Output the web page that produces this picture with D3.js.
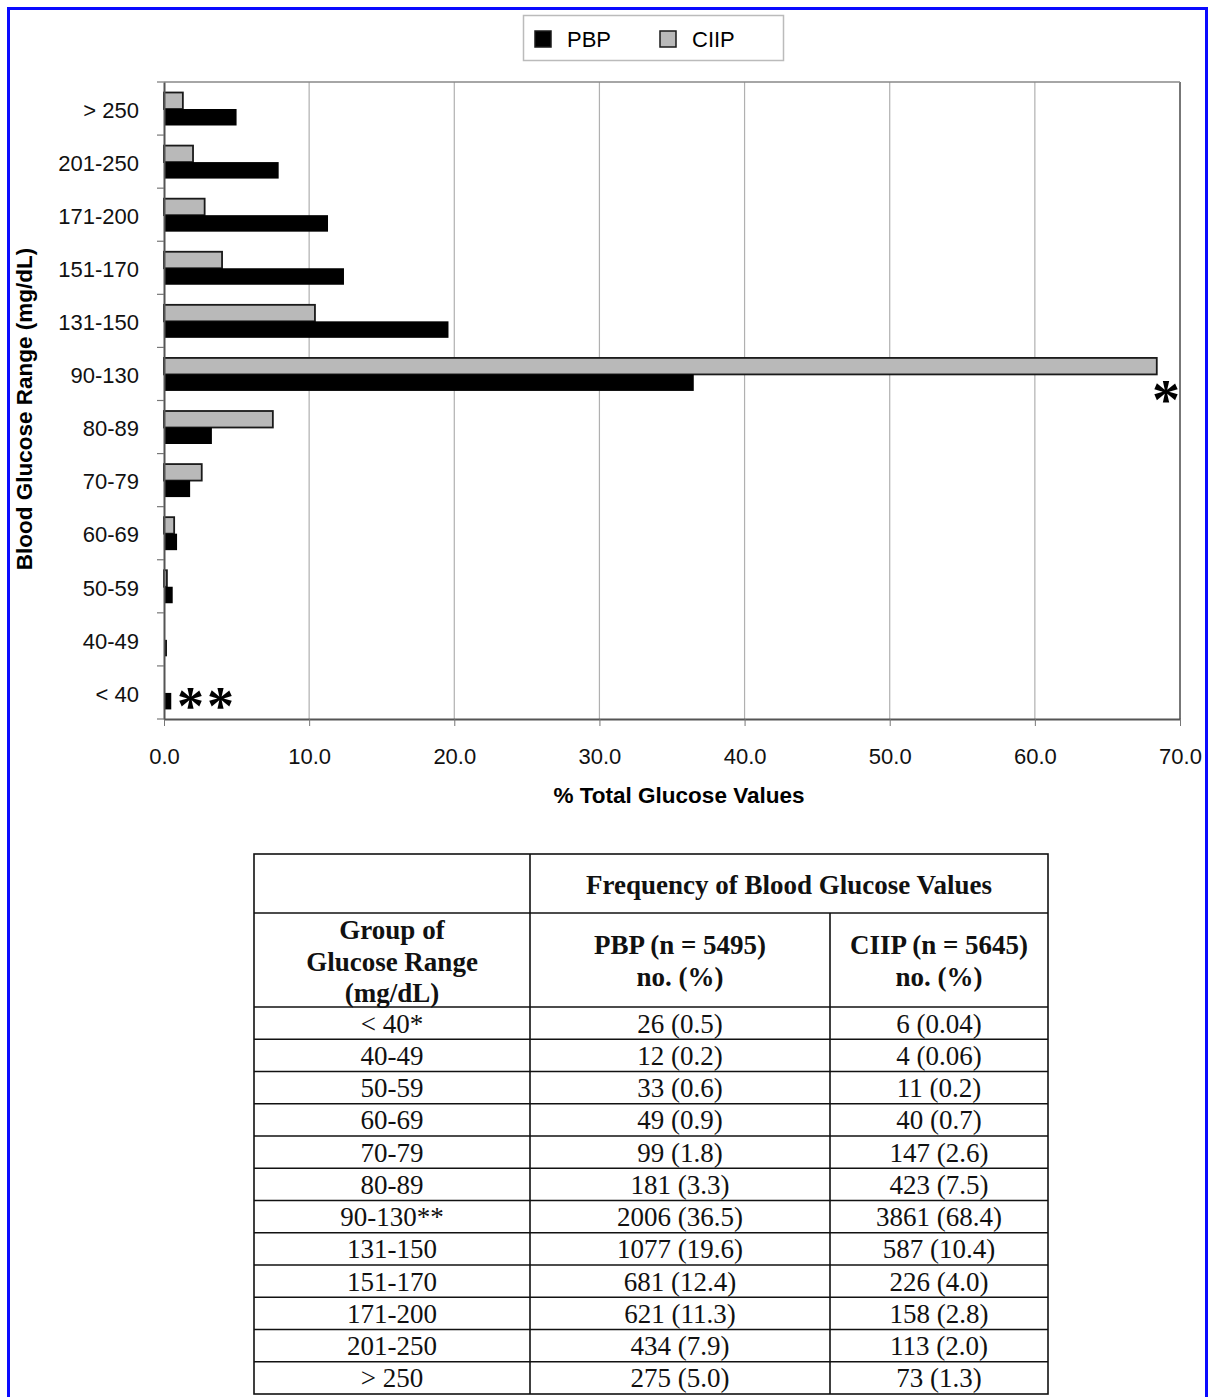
<!DOCTYPE html>
<html>
<head>
<meta charset="utf-8">
<script src="https://cdn.jsdelivr.net/npm/d3@7"></script>
<style>
  body { margin: 0; background: #fff; }
  svg { display: block; }
  .axis text { font-family: Arial, "Liberation Sans", sans-serif; font-size: 22px; fill: #111; }
  .tbl text { font-family: "Liberation Serif", "Times New Roman", serif; fill: #111; }
</style>
</head>
<body>
<div id="chart"></div>
<script>
// categories, bottom to top
const ranges = ['< 40', '40-49', '50-59', '60-69', '70-79', '80-89', '90-130', '131-150', '151-170', '171-200', '201-250', '> 250'];
const tableRanges = ['< 40*', '40-49', '50-59', '60-69', '70-79', '80-89', '90-130**', '131-150', '151-170', '171-200', '201-250', '> 250'];
const pbpCounts = [26, 12, 33, 49, 99, 181, 2006, 1077, 681, 621, 434, 275];
const pbpPct = [0.5, 0.2, 0.6, 0.9, 1.8, 3.3, 36.5, 19.6, 12.4, 11.3, 7.9, 5.0];
const ciipCounts = [6, 4, 11, 40, 147, 423, 3861, 587, 226, 158, 113, 73];
const ciipPct = [0.04, 0.06, 0.2, 0.7, 2.6, 7.5, 68.4, 10.4, 4.0, 2.8, 2.0, 1.3];
const xTicks = [0, 10, 20, 30, 40, 50, 60, 70];
const seriesNames = ['PBP', 'CIIP'];

const width = 1209;
const height = 1397;
const plot = { left: 164, right: 1180, top: 82, bottom: 719 };

const svg = d3.select('#chart')
    .append('svg')
    .attr('width', width)
    .attr('height', height);

// blue frame
svg.append('rect')
    .attr('x', 8.5).attr('y', 8.5)
    .attr('width', 1198).attr('height', 1400)
    .attr('fill', 'none')
    .attr('stroke', '#0a0aff')
    .attr('stroke-width', 3);

const x = d3.scaleLinear().domain([0, 70]).range([plot.left, plot.right]);
const y = d3.scaleBand()
    .domain(ranges.slice().reverse())
    .range([plot.top, plot.bottom]);
const inner = d3.scaleBand()
    .domain(['CIIP', 'PBP'])
    .range([10.5, 43.5]);

// grid lines
svg.append('g')
    .selectAll('line')
    .data(xTicks.slice(1))
    .enter()
    .append('line')
    .attr('x1', d => x(d)).attr('x2', d => x(d))
    .attr('y1', plot.top).attr('y2', plot.bottom)
    .attr('stroke', d => d === 70 ? '#777' : '#b0b0b0')
    .attr('stroke-width', d => d === 70 ? 2 : 1.2);

svg.append('line')
    .attr('x1', plot.left).attr('x2', plot.right)
    .attr('y1', plot.top).attr('y2', plot.top)
    .attr('stroke', '#888').attr('stroke-width', 1.5);

// bars
const rows = ranges.map((r, i) => ({ range: r, PBP: pbpPct[i], CIIP: ciipPct[i] }));
const groups = svg.append('g')
    .selectAll('g')
    .data(rows)
    .enter()
    .append('g')
    .attr('transform', d => `translate(0,${y(d.range)})`);

groups.append('rect')
    .attr('x', x(0))
    .attr('y', inner('CIIP'))
    .attr('width', d => Math.max(0, x(d.CIIP) - x(0)))
    .attr('height', inner.bandwidth())
    .attr('fill', d => d.CIIP < 0.1 ? 'none' : '#b9b9b9')
    .attr('stroke', d => d.CIIP < 0.1 ? 'none' : '#1a1a1a')
    .attr('stroke-width', 1.8);

groups.append('rect')
    .attr('x', x(0))
    .attr('y', inner('PBP'))
    .attr('width', d => x(d.PBP) - x(0))
    .attr('height', inner.bandwidth())
    .attr('fill', '#000');

// axes
const xAxis = d3.axisBottom(x).tickValues(xTicks).tickFormat(d3.format('.1f')).tickSize(7).tickSizeOuter(0);
const gx = svg.append('g')
    .attr('class', 'axis')
    .attr('transform', `translate(0,${plot.bottom})`)
    .call(xAxis);
gx.select('.domain').attr('stroke', '#555').attr('stroke-width', 2);
gx.selectAll('.tick line').attr('stroke', '#777');
gx.selectAll('.tick text').attr('dy', '1.57em');

const yAxis = d3.axisLeft(y).tickSize(0).tickPadding(25).tickSizeOuter(0);
const gy = svg.append('g')
    .attr('class', 'axis')
    .attr('transform', `translate(${plot.left},0)`)
    .call(yAxis);
gy.select('.domain').attr('stroke', '#555').attr('stroke-width', 2);
gy.selectAll('.tick text').attr('dy', '0.42em');

// band boundary ticks on the y axis
svg.append('g')
    .selectAll('line')
    .data(ranges)
    .enter()
    .append('line')
    .attr('x1', plot.left - 7).attr('x2', plot.left)
    .attr('y1', d => y(d)).attr('y2', d => y(d))
    .attr('stroke', '#777').attr('stroke-width', 1.2);
svg.append('line')
    .attr('x1', plot.left - 7).attr('x2', plot.left)
    .attr('y1', plot.bottom).attr('y2', plot.bottom)
    .attr('stroke', '#777').attr('stroke-width', 1.2);

// axis titles
svg.append('text')
    .attr('x', 679)
    .attr('y', 803)
    .attr('text-anchor', 'middle')
    .style('font-family', 'Arial, "Liberation Sans", sans-serif')
    .style('font-size', '22.5px')
    .style('font-weight', 'bold')
    .text('% Total Glucose Values');

svg.append('text')
    .attr('transform', 'translate(32,409) rotate(-90)')
    .attr('text-anchor', 'middle')
    .style('font-family', 'Arial, "Liberation Sans", sans-serif')
    .style('font-size', '22.5px')
    .style('font-weight', 'bold')
    .text('Blood Glucose Range (mg/dL)');

// significance markers
const star = svg.append('g')
    .style('font-family', '"Liberation Serif", "Times New Roman", serif')
    .style('font-weight', 'bold')
    .attr('fill', '#000');
star.append('text')
    .attr('x', 1166).attr('y', y('90-130') + 72)
    .attr('text-anchor', 'middle')
    .style('font-size', '56px')
    .text('*');
star.append('text')
    .attr('x', 177).attr('y', y('< 40') + 58)
    .style('font-size', '54px')
    .attr('letter-spacing', '3px')
    .text('**');

// legend
const legend = svg.append('g').attr('transform', 'translate(523,15)');
legend.append('rect')
    .attr('x', 0.5).attr('y', 0.5)
    .attr('width', 260).attr('height', 45)
    .attr('fill', '#fff')
    .attr('stroke', '#bbb').attr('stroke-width', 1.5);
const legendItems = legend.selectAll('g')
    .data(seriesNames)
    .enter()
    .append('g')
    .attr('transform', (d, i) => `translate(${12 + i * 125},0)`);
legendItems.append('rect')
    .attr('x', 0).attr('y', 16)
    .attr('width', 16).attr('height', 16)
    .attr('fill', d => d === 'PBP' ? '#000' : '#b9b9b9')
    .attr('stroke', '#1a1a1a').attr('stroke-width', 1.5);
legendItems.append('text')
    .attr('x', 32).attr('y', 32)
    .style('font-family', 'Arial, "Liberation Sans", sans-serif')
    .style('font-size', '22px')
    .text(d => d);

// table
const tbl = svg.append('g').attr('class', 'tbl');
const colX = [254, 530, 830, 1048];
const rowTop = 1007;
const rowH = 32.25;
const tableRows = d3.range(ranges.length).map(i => [
    tableRanges[i],
    `${pbpCounts[i]} (${pbpPct[i].toFixed(1)})`,
    `${ciipCounts[i]} (${ciipPct[i] < 0.1 ? ciipPct[i].toFixed(2) : ciipPct[i].toFixed(1)})`
]);
const tableBottom = rowTop + rowH * tableRows.length;
const lineStyle = sel => sel.attr('stroke', '#111').attr('stroke-width', 1.6);

tbl.append('rect')
    .attr('x', colX[0]).attr('y', 854)
    .attr('width', colX[3] - colX[0]).attr('height', tableBottom - 854)
    .attr('fill', 'none')
    .call(lineStyle);
tbl.append('line').attr('x1', colX[1]).attr('x2', colX[1]).attr('y1', 854).attr('y2', tableBottom).call(lineStyle);
tbl.append('line').attr('x1', colX[2]).attr('x2', colX[2]).attr('y1', 913).attr('y2', tableBottom).call(lineStyle);
tbl.append('line').attr('x1', colX[0]).attr('x2', colX[3]).attr('y1', 913).attr('y2', 913).call(lineStyle);
tbl.selectAll('.hline')
    .data(d3.range(tableRows.length))
    .enter()
    .append('line')
    .attr('x1', colX[0]).attr('x2', colX[3])
    .attr('y1', i => rowTop + i * rowH).attr('y2', i => rowTop + i * rowH)
    .call(lineStyle);

const headStyle = sel => sel
    .attr('text-anchor', 'middle')
    .style('font-size', '27px')
    .style('font-weight', 'bold');
tbl.append('text').attr('x', (colX[1] + colX[3]) / 2).attr('y', 894).call(headStyle)
    .text('Frequency of Blood Glucose Values');
const headLines = [
    { x: (colX[0] + colX[1]) / 2, lines: ['Group of', 'Glucose Range', '(mg/dL)'], y0: 939 },
    { x: (colX[1] + colX[2]) / 2, lines: ['PBP (n = 5495)', 'no. (%)'], y0: 954 },
    { x: (colX[2] + colX[3]) / 2, lines: ['CIIP (n = 5645)', 'no. (%)'], y0: 954 }
];
headLines.forEach(h => {
    h.lines.forEach((t, j) => {
        tbl.append('text').attr('x', h.x).attr('y', h.y0 + j * 31.5).call(headStyle).text(t);
    });
});

const cellCenters = [(colX[0] + colX[1]) / 2, (colX[1] + colX[2]) / 2, (colX[2] + colX[3]) / 2];
tableRows.forEach((row, i) => {
    row.forEach((t, j) => {
        tbl.append('text')
            .attr('x', cellCenters[j])
            .attr('y', rowTop + i * rowH + 25.5)
            .attr('text-anchor', 'middle')
            .style('font-size', '27px')
            .text(t);
    });
});
</script>
</body>
</html>
